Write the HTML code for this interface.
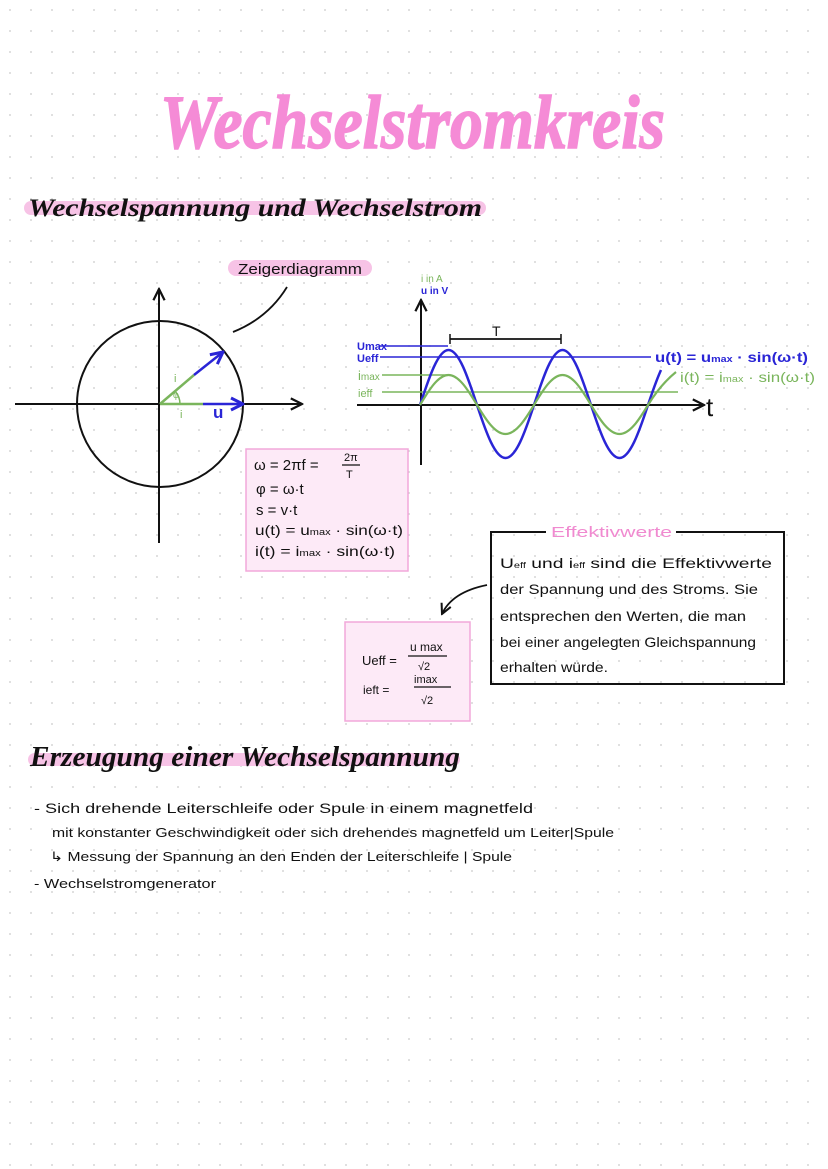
<!DOCTYPE html>
<html><head><meta charset="utf-8">
<style>
html,body{margin:0;padding:0;background:#fff;}
svg{display:block;}
text{font-family:"Liberation Sans",sans-serif;}
.sc{font-family:"Liberation Serif",serif;font-style:italic;font-weight:bold;}
</style></head>
<body>
<svg width="828" height="1169" viewBox="0 0 828 1169" xmlns="http://www.w3.org/2000/svg">
<defs>
<pattern id="dots" x="0" y="0" width="21" height="21" patternUnits="userSpaceOnUse">
<circle cx="10" cy="10" r="0.9" fill="#c9c9c9"/>
</pattern>
<marker id="ah" viewBox="0 0 10 10" refX="9" refY="5" markerWidth="7" markerHeight="7" orient="auto-start-reverse">
<path d="M1,1 L9,5 L1,9" fill="none" stroke="#111" stroke-width="1.6"/>
</marker>
<marker id="ahb" viewBox="0 0 10 10" refX="9" refY="5" markerWidth="6" markerHeight="6" orient="auto">
<path d="M1,1 L9,5 L1,9" fill="none" stroke="#2a25d6" stroke-width="2"/>
</marker>
</defs>
<rect width="828" height="1169" fill="#fff"/>
<rect width="828" height="1169" fill="url(#dots)"/>

<text x="160" y="148" class="sc" font-size="76" fill="#f58bd6" stroke="#f58bd6" stroke-width="1.5" textLength="505" lengthAdjust="spacingAndGlyphs">Wechselstromkreis</text>

<rect x="24" y="201" width="462" height="14" rx="7" fill="#f7c3e6"/>
<text x="28" y="216" class="sc" font-size="25" fill="#111" textLength="454" lengthAdjust="spacingAndGlyphs">Wechselspannung und Wechselstrom</text>

<circle cx="160" cy="404" r="83" fill="none" stroke="#111" stroke-width="2"/>
<line x1="15" y1="404" x2="302" y2="404" stroke="#111" stroke-width="2" marker-end="url(#ah)"/>
<line x1="159" y1="543" x2="159" y2="289" stroke="#111" stroke-width="2" marker-end="url(#ah)"/>
<line x1="160" y1="404" x2="203" y2="404" stroke="#7ab55c" stroke-width="2.5"/>
<line x1="203" y1="404" x2="243" y2="404" stroke="#2a25d6" stroke-width="2.5" marker-end="url(#ahb)"/>
<line x1="160" y1="404" x2="194" y2="375" stroke="#7ab55c" stroke-width="2.5"/>
<line x1="194" y1="375" x2="223" y2="352" stroke="#2a25d6" stroke-width="2.5" marker-end="url(#ahb)"/>
<path d="M180,404 A20,20 0 0 0 175,391" fill="none" stroke="#7ab55c" stroke-width="1.5"/>
<text x="173" y="398" font-size="9" fill="#7ab55c">φ</text>
<text x="174" y="382" font-size="11" fill="#7ab55c">i</text>
<text x="180" y="418" font-size="11" fill="#7ab55c">i</text>
<text x="213" y="418" font-size="17" fill="#2a25d6" font-weight="bold">u</text>

<rect x="228" y="260" width="144" height="16" rx="8" fill="#f7c3e6"/>
<text x="238" y="274" font-size="15" fill="#111" textLength="124" lengthAdjust="spacingAndGlyphs">Zeigerdiagramm</text>
<path d="M233,332 Q268,318 287,287" fill="none" stroke="#111" stroke-width="1.8"/>

<line x1="421" y1="465" x2="421" y2="300" stroke="#111" stroke-width="2" marker-end="url(#ah)"/>
<line x1="357" y1="405" x2="704" y2="405" stroke="#111" stroke-width="2" marker-end="url(#ah)"/>
<text x="421" y="282" font-size="10" fill="#7ab55c">i in A</text>
<text x="421" y="294" font-size="10" fill="#2a25d6" font-weight="bold">u in V</text>
<line x1="380" y1="346" x2="448" y2="346" stroke="#2a25d6" stroke-width="1.5"/>
<line x1="380" y1="357" x2="651" y2="357" stroke="#2a25d6" stroke-width="1.5"/>
<line x1="382" y1="375" x2="448" y2="375" stroke="#7ab55c" stroke-width="1.5"/>
<line x1="382" y1="392" x2="678" y2="392" stroke="#7ab55c" stroke-width="1.5"/>
<text x="357" y="350" font-size="11" fill="#2a25d6" font-weight="bold">Umax</text>
<text x="357" y="362" font-size="11" fill="#2a25d6" font-weight="bold">Ueff</text>
<text x="358" y="380" font-size="13" fill="#7ab55c">i<tspan font-size="10">max</tspan></text>
<text x="358" y="397" font-size="11" fill="#7ab55c">ieff</text>
<path d="M420,405 C429.3,376.8 438.2,350 448.5,350 C458.8,350 467.7,376.8 477,405 C486.3,433.2 495.2,458 505.5,458 C515.8,458 524.7,433.2 534,405 C543.3,376.8 552.2,350 562.5,350 C572.8,350 581.7,376.8 591,405 C600.3,433.2 609.2,458 619.5,458 C629.8,458 638.7,433.2 648,405 C652,393 656,381 661,370" fill="none" stroke="#2a25d6" stroke-width="2.5"/>
<path d="M420,405 C429.3,389.6 438.2,375 448.5,375 C458.8,375 467.7,389.6 477,405 C486.3,420.4 495.2,434 505.5,434 C515.8,434 524.7,420.4 534,405 C543.3,389.6 552.2,375 562.5,375 C572.8,375 581.7,389.6 591,405 C600.3,420.4 609.2,434 619.5,434 C629.8,434 638.7,420.4 648,405 C656,392 666,380 676,372" fill="none" stroke="#7ab55c" stroke-width="2.2"/>
<line x1="450" y1="339" x2="561" y2="339" stroke="#111" stroke-width="1.8"/>
<line x1="450" y1="334" x2="450" y2="344" stroke="#111" stroke-width="1.5"/>
<line x1="561" y1="334" x2="561" y2="344" stroke="#111" stroke-width="1.5"/>
<text x="492" y="336" font-size="14" fill="#111">T</text>
<text x="706" y="416" font-size="26" fill="#111">t</text>
<text x="655" y="362" font-size="14" fill="#2a25d6" font-weight="bold" textLength="153" lengthAdjust="spacingAndGlyphs">u(t) = u<tspan font-size="9">max</tspan> · sin(ω·t)</text>
<text x="680" y="382" font-size="14" fill="#7ab55c" textLength="135" lengthAdjust="spacingAndGlyphs">i(t) = i<tspan font-size="9">max</tspan> · sin(ω·t)</text>

<rect x="246" y="449" width="162" height="122" fill="#fdeaf7" stroke="#f2a8da" stroke-width="1.5"/>
<text x="254" y="470" font-size="15" fill="#111">ω = 2πf =</text>
<text x="344" y="461" font-size="11" fill="#111">2π</text>
<line x1="342" y1="465" x2="360" y2="465" stroke="#111" stroke-width="1.2"/>
<text x="346" y="478" font-size="11" fill="#111">T</text>
<text x="256" y="494" font-size="15" fill="#111">φ = ω·t</text>
<text x="256" y="515" font-size="15" fill="#111">s = v·t</text>
<text x="255" y="535" font-size="14" fill="#111" textLength="148" lengthAdjust="spacingAndGlyphs">u(t) = u<tspan font-size="9">max</tspan> · sin(ω·t)</text>
<text x="255" y="556" font-size="14" fill="#111" textLength="140" lengthAdjust="spacingAndGlyphs">i(t) = i<tspan font-size="9">max</tspan> · sin(ω·t)</text>

<path d="M546,532 L491,532 L491,684 L784,684 L784,532 L676,532" fill="none" stroke="#111" stroke-width="2"/>
<text x="551" y="537" font-size="15" fill="#f08ad0" textLength="121" lengthAdjust="spacingAndGlyphs">Effektivwerte</text>
<text x="500" y="568" font-size="14" fill="#111" textLength="272" lengthAdjust="spacingAndGlyphs">U<tspan font-size="8">eff</tspan> und i<tspan font-size="8">eff</tspan> sind die Effektivwerte</text>
<text x="500" y="594" font-size="14" fill="#111" textLength="258" lengthAdjust="spacingAndGlyphs">der Spannung und des Stroms. Sie</text>
<text x="500" y="621" font-size="14" fill="#111" textLength="246" lengthAdjust="spacingAndGlyphs">entsprechen den Werten, die man</text>
<text x="500" y="647" font-size="14" fill="#111" textLength="256" lengthAdjust="spacingAndGlyphs">bei einer angelegten Gleichspannung</text>
<text x="500" y="672" font-size="14" fill="#111" textLength="108" lengthAdjust="spacingAndGlyphs">erhalten würde.</text>
<path d="M487,585 Q452,592 442,614" fill="none" stroke="#111" stroke-width="1.8" marker-end="url(#ah)"/>

<rect x="345" y="622" width="125" height="99" fill="#fdeaf7" stroke="#f2a8da" stroke-width="1.5"/>
<text x="410" y="651" font-size="12" fill="#111">u max</text>
<line x1="408" y1="656" x2="447" y2="656" stroke="#111" stroke-width="1.3"/>
<text x="362" y="665" font-size="13" fill="#111">Ueff =</text>
<text x="418" y="670" font-size="11" fill="#111">√2</text>
<text x="414" y="683" font-size="11" fill="#111">imax</text>
<line x1="414" y1="687" x2="451" y2="687" stroke="#111" stroke-width="1.3"/>
<text x="363" y="694" font-size="12" fill="#111">ieft  =</text>
<text x="421" y="704" font-size="11" fill="#111">√2</text>

<rect x="28" y="753" width="432" height="13" rx="6.5" fill="#f7c3e6"/>
<text x="30" y="766" class="sc" font-size="28" fill="#111" textLength="430" lengthAdjust="spacingAndGlyphs">Erzeugung einer Wechselspannung</text>

<text x="34" y="813" font-size="14" fill="#111" textLength="499" lengthAdjust="spacingAndGlyphs">- Sich drehende Leiterschleife oder Spule in einem magnetfeld</text>
<text x="52" y="837" font-size="12.5" fill="#111" textLength="562" lengthAdjust="spacingAndGlyphs">mit konstanter Geschwindigkeit oder sich drehendes magnetfeld um Leiter|Spule</text>
<text x="50" y="861" font-size="13" fill="#111" textLength="462" lengthAdjust="spacingAndGlyphs">↳ Messung der Spannung an den Enden der Leiterschleife | Spule</text>
<text x="34" y="888" font-size="13" fill="#111" textLength="182" lengthAdjust="spacingAndGlyphs">- Wechselstromgenerator</text>
</svg>
</body></html>
